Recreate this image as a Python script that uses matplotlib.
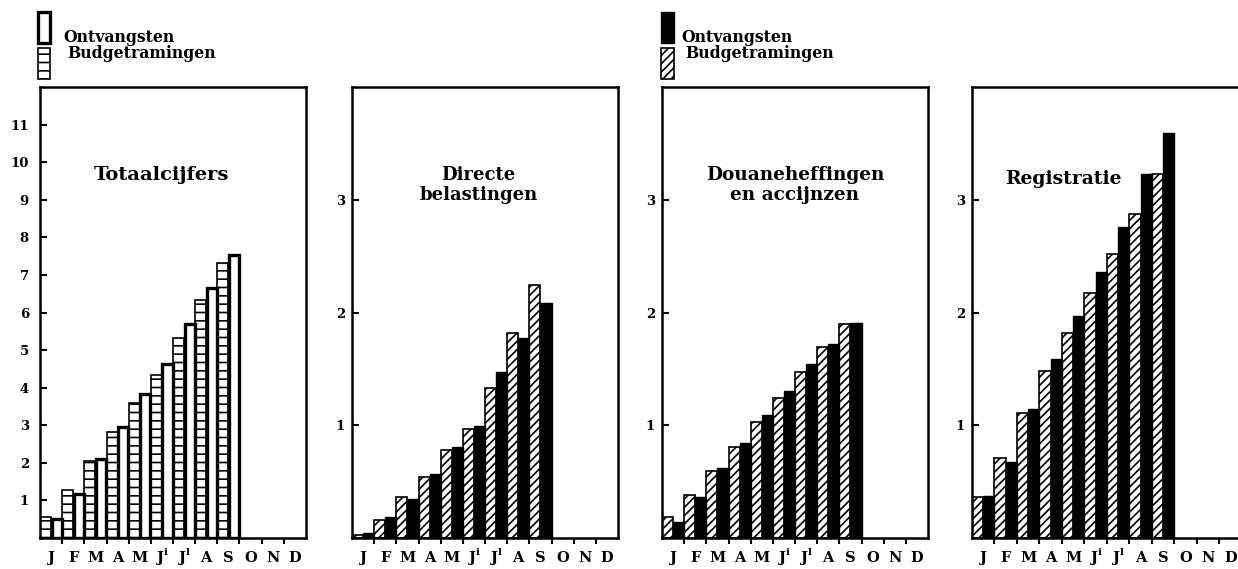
import matplotlib
matplotlib.use("Agg")
import matplotlib.pyplot as plt
from matplotlib.patches import Rectangle
import numpy as np

plt.rcParams['font.family'] = ['DejaVu Serif']
plt.rcParams['font.weight'] = 'bold'
plt.rcParams['mathtext.fontset'] = 'custom'
plt.rcParams['mathtext.rm'] = 'DejaVu Serif:bold'
plt.rcParams['mathtext.bf'] = 'DejaVu Serif:bold'
plt.rcParams['hatch.linewidth'] = 1.2

months = ['J', 'F', 'M', 'A', 'M', r'J$^{\rm i}$', r'J$^{\rm l}$', 'A', 'S', 'O', 'N', 'D']

tot_budget = [0.56, 1.28, 2.06, 2.83, 3.60, 4.34, 5.31, 6.33, 7.33]
tot_receipts = [0.50, 1.18, 2.10, 2.96, 3.83, 4.62, 5.69, 6.66, 7.52]
dir_budget = [0.03, 0.16, 0.36, 0.54, 0.78, 0.97, 1.33, 1.82, 2.24]
dir_receipts = [0.045, 0.19, 0.35, 0.57, 0.81, 0.99, 1.47, 1.77, 2.08]
dou_budget = [0.19, 0.38, 0.59, 0.81, 1.03, 1.24, 1.47, 1.69, 1.90]
dou_receipts = [0.14, 0.36, 0.62, 0.84, 1.09, 1.30, 1.54, 1.72, 1.91]
reg_budget = [0.36, 0.71, 1.11, 1.48, 1.82, 2.17, 2.52, 2.87, 3.23]
reg_receipts = [0.37, 0.67, 1.14, 1.59, 1.97, 2.36, 2.76, 3.23, 3.59]

titles = ['Totaalcijfers', 'Directe\nbelastingen', 'Douaneheffingen\nen accijnzen', 'Registratie']
title_xy = [(5.5, 9.65), (5.7, 3.13), (6.0, 3.13), (4.05, 3.18)]
title_size = [14, 13, 13.3, 13.5]
budgets = [tot_budget, dir_budget, dou_budget, reg_budget]
receipts = [tot_receipts, dir_receipts, dou_receipts, reg_receipts]
ymax = [12, 4, 4, 4]
yticks = [list(range(1, 12)), [1, 2, 3], [1, 2, 3], [1, 2, 3]]

W, H = 1238, 569
fig = plt.figure(figsize=(W / 100, H / 100), dpi=100)
fig.patch.set_facecolor('white')

lefts = [40, 352, 662, 972]
pw = 266
bottom_px = 538
top_px = 87

for i in range(4):
    ax = fig.add_axes([lefts[i] / W, (H - bottom_px) / H, (pw + (4 if i == 3 else 0)) / W,
                       (bottom_px - top_px) / H])
    n = len(budgets[i])
    x = np.arange(n)
    if i == 0:
        ax.bar(x + 0.25, budgets[i], width=0.5, facecolor='white', edgecolor='black',
               hatch='--', linewidth=1.2, zorder=2)
        ax.bar(x + 0.75, receipts[i], width=0.46, facecolor='white', edgecolor='black',
               linewidth=2.4, zorder=3)
    else:
        ax.bar(x + 0.25, budgets[i], width=0.5, facecolor='white', edgecolor='black',
               hatch='////', linewidth=1.2, zorder=2)
        ax.bar(x + 0.75, receipts[i], width=0.5, facecolor='black', edgecolor='black',
               linewidth=1.0, zorder=3)
    ax.set_xlim(0, 12)
    ax.set_ylim(0, ymax[i])
    ax.set_xticks(np.arange(1, 12))
    ax.set_xticklabels([])
    ax.set_xticks(np.arange(12) + 0.5, minor=True)
    ax.set_xticklabels(months, minor=True, fontsize=10.5, fontweight='bold')
    for lbl in ax.get_xticklabels(minor=True):
        lbl.set_va('baseline')
    ax.tick_params(axis='x', which='major', direction='out', length=4, width=1.5)
    ax.tick_params(axis='x', which='minor', length=0, pad=17)
    ax.set_yticks(yticks[i])
    ax.set_yticklabels([str(v) for v in yticks[i]], fontsize=9.5, fontweight='bold')
    ax.tick_params(axis='y', direction='in', length=5, width=1.5, pad=8 if i == 0 else 5)
    for s in ax.spines.values():
        s.set_linewidth(1.8)
    ax.text(title_xy[i][0], title_xy[i][1], titles[i], ha='center', va='center',
            fontsize=title_size[i], fontweight='bold', linespacing=1.1)

# Legends (figure-level)
def fr(x, y, w, h, **kw):
    fig.add_artist(Rectangle((x / W, 1 - (y + h) / H), w / W, h / H,
                             transform=fig.transFigure, **kw))

fr(38, 12, 12, 31, facecolor='white', edgecolor='black', linewidth=2.4)
fr(38, 48, 12, 31, facecolor='white', edgecolor='black', linewidth=1.2, hatch='--')
fig.text(63 / W, 1 - 38 / H, 'Ontvangsten', fontsize=11.3, fontweight='bold', va='center')
fig.text(67 / W, 1 - 53 / H, 'Budgetramingen', fontsize=11.3, fontweight='bold', va='center')

fr(661, 12, 13, 31, facecolor='black', edgecolor='black', linewidth=1.0)
fr(661, 48, 13, 31, facecolor='white', edgecolor='black', linewidth=1.2, hatch='////')
fig.text(681 / W, 1 - 38 / H, 'Ontvangsten', fontsize=11.3, fontweight='bold', va='center')
fig.text(685 / W, 1 - 53 / H, 'Budgetramingen', fontsize=11.3, fontweight='bold', va='center')

fig.savefig('out.png', dpi=100, facecolor='white')
